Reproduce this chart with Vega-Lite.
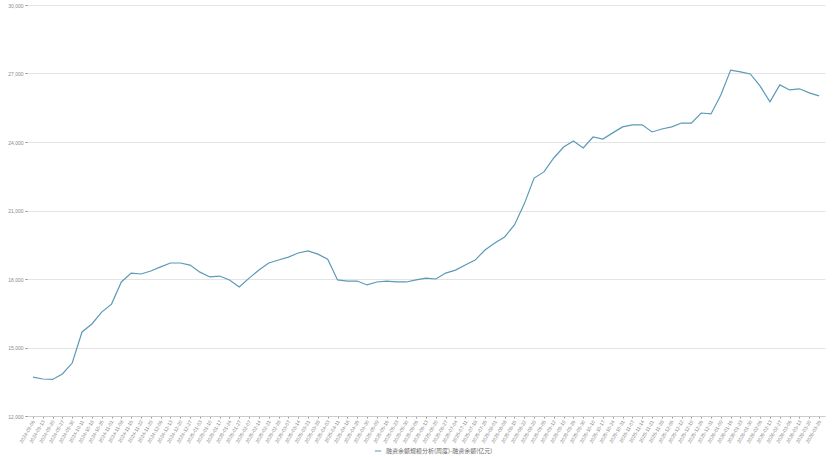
{
  "$schema": "https://vega.github.io/schema/vega-lite/v6.json",
  "width": 798,
  "height": 411,
  "autosize": {"type": "none"},
  "padding": {"left": 27, "top": 5, "right": 13, "bottom": 41},
  "background": "#ffffff",
  "data": {
    "values": [
      {"date": "2024-09-06", "value": 13700},
      {"date": "2024-09-13", "value": 13620},
      {"date": "2024-09-20", "value": 13600},
      {"date": "2024-09-27", "value": 13840},
      {"date": "2024-09-30", "value": 14320},
      {"date": "2024-10-11", "value": 15680},
      {"date": "2024-10-18", "value": 16030},
      {"date": "2024-10-25", "value": 16550},
      {"date": "2024-11-01", "value": 16900},
      {"date": "2024-11-08", "value": 17870},
      {"date": "2024-11-15", "value": 18260},
      {"date": "2024-11-22", "value": 18220},
      {"date": "2024-11-29", "value": 18350},
      {"date": "2024-12-06", "value": 18530},
      {"date": "2024-12-13", "value": 18700},
      {"date": "2024-12-20", "value": 18700},
      {"date": "2024-12-27", "value": 18610},
      {"date": "2025-01-03", "value": 18300},
      {"date": "2025-01-10", "value": 18090},
      {"date": "2025-01-17", "value": 18130},
      {"date": "2025-01-24", "value": 17960},
      {"date": "2025-01-27", "value": 17650},
      {"date": "2025-02-07", "value": 18040},
      {"date": "2025-02-14", "value": 18390},
      {"date": "2025-02-21", "value": 18700},
      {"date": "2025-02-28", "value": 18830},
      {"date": "2025-03-07", "value": 18960},
      {"date": "2025-03-14", "value": 19140},
      {"date": "2025-03-21", "value": 19230},
      {"date": "2025-03-28", "value": 19090},
      {"date": "2025-04-03", "value": 18870},
      {"date": "2025-04-11", "value": 17960},
      {"date": "2025-04-18", "value": 17910},
      {"date": "2025-04-25", "value": 17910},
      {"date": "2025-04-30", "value": 17740},
      {"date": "2025-05-09", "value": 17870},
      {"date": "2025-05-16", "value": 17910},
      {"date": "2025-05-23", "value": 17870},
      {"date": "2025-05-30", "value": 17870},
      {"date": "2025-06-06", "value": 17960},
      {"date": "2025-06-13", "value": 18040},
      {"date": "2025-06-20", "value": 18000},
      {"date": "2025-06-27", "value": 18260},
      {"date": "2025-07-04", "value": 18390},
      {"date": "2025-07-11", "value": 18610},
      {"date": "2025-07-18", "value": 18830},
      {"date": "2025-07-25", "value": 19270},
      {"date": "2025-08-01", "value": 19580},
      {"date": "2025-08-08", "value": 19840},
      {"date": "2025-08-15", "value": 20370},
      {"date": "2025-08-22", "value": 21290},
      {"date": "2025-08-29", "value": 22420},
      {"date": "2025-09-05", "value": 22690},
      {"date": "2025-09-12", "value": 23300},
      {"date": "2025-09-19", "value": 23780},
      {"date": "2025-09-26", "value": 24040},
      {"date": "2025-09-30", "value": 23740},
      {"date": "2025-10-10", "value": 24220},
      {"date": "2025-10-17", "value": 24130},
      {"date": "2025-10-24", "value": 24400},
      {"date": "2025-10-31", "value": 24660},
      {"date": "2025-11-07", "value": 24750},
      {"date": "2025-11-14", "value": 24750},
      {"date": "2025-11-21", "value": 24440},
      {"date": "2025-11-28", "value": 24570},
      {"date": "2025-12-05", "value": 24660},
      {"date": "2025-12-12", "value": 24830},
      {"date": "2025-12-19", "value": 24830},
      {"date": "2025-12-26", "value": 25270},
      {"date": "2025-12-31", "value": 25230},
      {"date": "2026-01-09", "value": 26060},
      {"date": "2026-01-16", "value": 27150},
      {"date": "2026-01-23", "value": 27070},
      {"date": "2026-01-30", "value": 26980},
      {"date": "2026-02-06", "value": 26450},
      {"date": "2026-02-13", "value": 25760},
      {"date": "2026-02-27", "value": 26500},
      {"date": "2026-03-06", "value": 26280},
      {"date": "2026-03-13", "value": 26330},
      {"date": "2026-03-20", "value": 26150},
      {"date": "2026-03-26", "value": 26020}
    ]
  },
  "mark": {"type": "line", "strokeWidth": 1.2, "interpolate": "linear"},
  "encoding": {
    "x": {
      "field": "date",
      "type": "ordinal",
      "sort": null,
      "scale": {"type": "point", "padding": 0.6},
      "axis": {
        "title": null,
        "labelAngle": -60,
        "labelFontSize": 5,
        "labelColor": "#8a8a8a",
        "labelFont": "Liberation Sans",
        "labelPadding": 2,
        "tickSize": 2,
        "tickColor": "#999999",
        "domainColor": "#cccccc",
        "labelOverlap": false
      }
    },
    "y": {
      "field": "value",
      "type": "quantitative",
      "scale": {"domain": [12000, 30000], "nice": false, "zero": false},
      "axis": {
        "title": null,
        "values": [12000, 15000, 18000, 21000, 24000, 27000, 30000],
        "format": ",.0f",
        "labelFontSize": 5,
        "labelColor": "#8a8a8a",
        "labelFont": "Liberation Sans",
        "labelPadding": 2,
        "tickSize": 2,
        "tickColor": "#888888",
        "domain": false,
        "gridColor": "#dddddd",
        "gridWidth": 0.8
      }
    },
    "color": {
      "datum": "融资余额规模分析(周度)-融资余额(亿元)",
      "type": "nominal",
      "scale": {"range": ["#5b9ab8"]},
      "legend": {
        "title": null,
        "orient": "none",
        "legendX": 347,
        "legendY": 442,
        "labelFontSize": 6,
        "labelColor": "#666666",
        "labelFont": "Noto Sans CJK SC",
        "symbolType": "stroke",
        "symbolSize": 40,
        "symbolStrokeWidth": 1
      }
    }
  },
  "config": {
    "view": {"stroke": null}
  }
}
